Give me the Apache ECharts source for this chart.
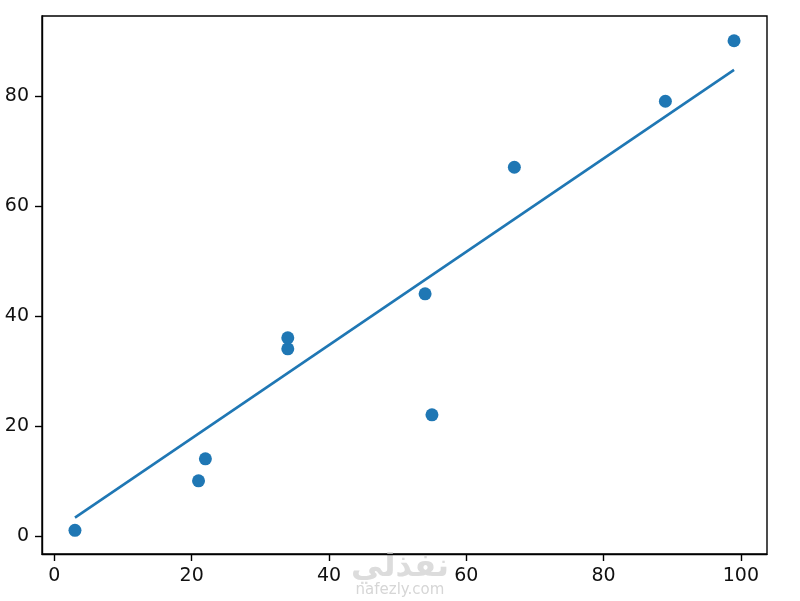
<!DOCTYPE html>
<html>
<head>
<meta charset="UTF-8">
<title>scatter + fit</title>
<style>
  html, body { margin: 0; padding: 0; background: #fff; }
  #main { width: 800px; height: 601px; }
</style>
</head>
<body>
<div id="main"></div>
<script src="https://cdn.jsdelivr.net/npm/echarts@6/dist/echarts.min.js"></script>
<script>
// points
var pointX = [3, 21, 22, 34, 34, 54, 55, 67, 89, 99];
var pointY = [1, 10, 14, 34, 36, 44, 22, 67, 79, 90];

// fitted line, two ends
var lineX = [3, 99];
var lineY = [3.3, 84.7];

var xTicks = [0, 20, 40, 60, 80, 100];
var yTicks = [0, 20, 40, 60, 80];

var blue = '#1f77b4';
var font = 'DejaVu Sans';

var scatterData = pointX.map(function (x, i) { return [x, pointY[i]]; });
var lineData = lineX.map(function (x, i) { return [x, lineY[i]]; });

var chart = echarts.init(document.getElementById('main'));

function axis(min, max, ticks, margin) {
    return {
        type: 'value',
        min: min,
        max: max,
        axisLine: { show: true, onZero: false, lineStyle: { color: '#000', width: 1.4 } },
        axisTick: {
            show: true,
            inside: false,
            length: 7,
            customValues: ticks,
            lineStyle: { color: '#000', width: 1.4 }
        },
        axisLabel: {
            customValues: ticks,
            margin: margin,
            color: '#111',
            fontFamily: font,
            fontSize: 19
        },
        splitLine: { show: false }
    };
}

chart.setOption({
    animation: false,
    grid: {
        left: 42, right: 33, top: 16, bottom: 47,
        show: true,
        borderColor: '#000',
        borderWidth: 1.4,
        containLabel: false
    },
    xAxis: axis(-1.8, 103.8, xTicks, 13),
    yAxis: axis(-3.3, 94.5, yTicks, 13),
    series: [{
        type: 'line',
        data: lineData,
        symbol: 'none',
        lineStyle: { color: blue, width: 2.6 },
        z: 2
    }, {
        type: 'scatter',
        data: scatterData,
        symbolSize: 13,
        itemStyle: { color: blue, opacity: 1 },
        z: 3
    }],
    graphic: [{
        type: 'text',
        left: 'center',
        top: 552,
        style: {
            text: 'نفذلي',
            fill: '#dcdcdc',
            font: 'bold 32px "DejaVu Sans"'
        }
    }, {
        type: 'text',
        left: 'center',
        top: 583,
        style: {
            text: 'nafezly.com',
            fill: '#d6d6d6',
            font: '15px "DejaVu Sans"'
        }
    }]
});
</script>
</body>
</html>
